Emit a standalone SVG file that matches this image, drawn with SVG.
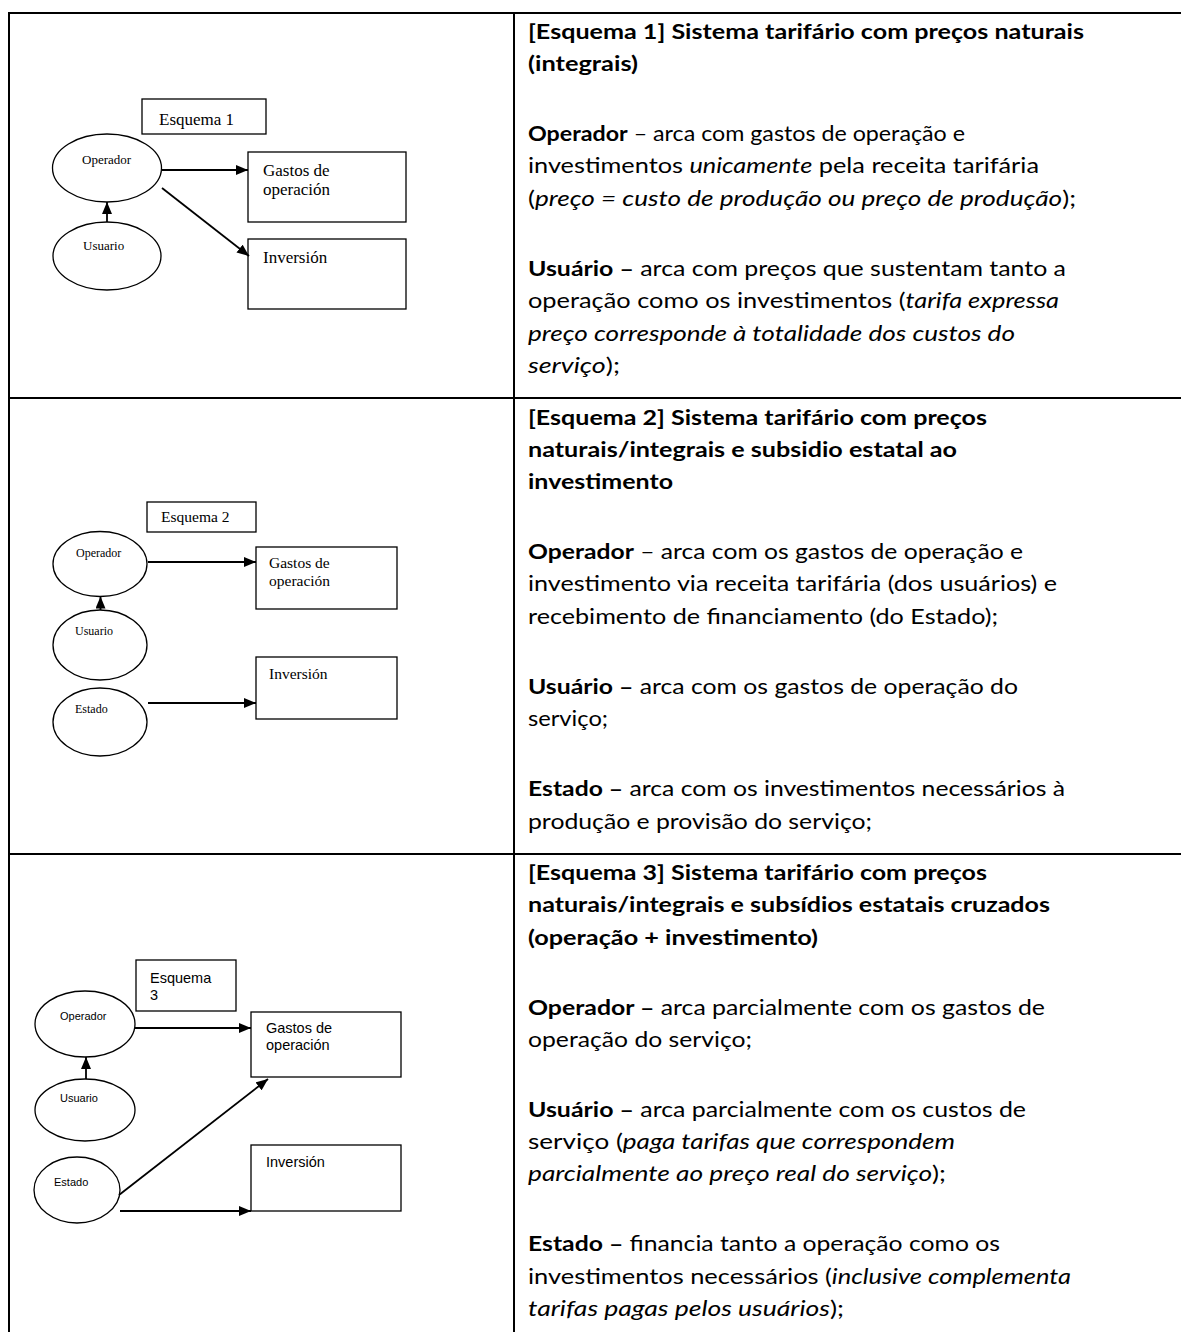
<svg xmlns="http://www.w3.org/2000/svg" width="1181" height="1332" viewBox="0 0 1181 1332">
<style>
.grid{stroke:#000;stroke-width:2;fill:none}
.shape{fill:#fff;stroke:#000;stroke-width:1.3}
.conn{stroke:#000;stroke-width:1.8;fill:none}
.serif{font-family:"Liberation Serif","Times New Roman",serif;fill:#000}
.sans{font-family:"Liberation Sans",Arial,sans-serif;fill:#000}
.body{font-family:Lato,"Open Sans",sans-serif;font-size:21.5px;fill:#000}
.b{font-weight:700}
.i{font-style:italic}
</style>
<defs>
<marker id="ah" markerWidth="12" markerHeight="10" refX="12" refY="5" orient="auto" markerUnits="userSpaceOnUse"><path d="M0,0 L12,5 L0,10 z" fill="#000"/></marker>
</defs>
<rect x="0" y="0" width="1181" height="1332" fill="#fff"/>
<g id="table">
<line class="grid" x1="8" y1="13" x2="1181" y2="13"/>
<line class="grid" x1="9" y1="12" x2="9" y2="1332"/>
<line class="grid" x1="514" y1="12" x2="514" y2="1332"/>
<line class="grid" x1="8" y1="398" x2="1181" y2="398"/>
<line class="grid" x1="8" y1="854" x2="1181" y2="854"/>
</g>

<!-- Panel 1 -->
<g id="p1-title"><rect class="shape" x="142" y="99" width="124" height="35"/><text class="serif" x="159" y="125" font-size="17">Esquema 1</text></g>
<g id="p1-operador"><ellipse class="shape" cx="107" cy="168" rx="54.5" ry="34"/><text class="serif" x="82" y="164" font-size="13">Operador</text></g>
<g id="p1-usuario"><ellipse class="shape" cx="107" cy="256" rx="54" ry="34"/><text class="serif" x="83" y="250" font-size="13">Usuario</text></g>
<g id="p1-gastos"><rect class="shape" x="248" y="152" width="158" height="70"/><text class="serif" x="263" y="176" font-size="17">Gastos de</text><text class="serif" x="263" y="195" font-size="17">operación</text></g>
<g id="p1-inversion"><rect class="shape" x="248" y="239" width="158" height="70"/><text class="serif" x="263" y="263" font-size="17">Inversión</text></g>

<!-- Panel 2 -->
<g id="p2-title"><rect class="shape" x="147" y="502" width="109" height="30"/><text class="serif" x="161" y="522" font-size="15.5">Esquema 2</text></g>
<g id="p2-operador"><ellipse class="shape" cx="100" cy="564" rx="47" ry="32.5"/><text class="serif" x="76" y="557" font-size="12">Operador</text></g>
<g id="p2-usuario"><ellipse class="shape" cx="100" cy="645" rx="47" ry="35"/><text class="serif" x="75" y="635" font-size="12">Usuario</text></g>
<g id="p2-estado"><ellipse class="shape" cx="100" cy="722" rx="47" ry="34"/><text class="serif" x="75" y="713" font-size="12">Estado</text></g>
<g id="p2-gastos"><rect class="shape" x="256" y="547" width="141" height="62"/><text class="serif" x="269" y="568" font-size="15.5">Gastos de</text><text class="serif" x="269" y="586" font-size="15.5">operación</text></g>
<g id="p2-inversion"><rect class="shape" x="256" y="657" width="141" height="62"/><text class="serif" x="269" y="679" font-size="15.5">Inversión</text></g>

<!-- Panel 3 -->
<g id="p3-title"><rect class="shape" x="136" y="960" width="100" height="51"/><text class="sans" x="150" y="983" font-size="14.5">Esquema</text><text class="sans" x="150" y="1000" font-size="14.5">3</text></g>
<g id="p3-operador"><ellipse class="shape" cx="85" cy="1024" rx="50" ry="33"/><text class="sans" x="60" y="1020" font-size="11">Operador</text></g>
<g id="p3-usuario"><ellipse class="shape" cx="85" cy="1110" rx="50" ry="31"/><text class="sans" x="60" y="1102" font-size="11">Usuario</text></g>
<g id="p3-estado"><ellipse class="shape" cx="77" cy="1190" rx="43" ry="33"/><text class="sans" x="54" y="1186" font-size="11">Estado</text></g>
<g id="p3-gastos"><rect class="shape" x="251" y="1012" width="150" height="65"/><text class="sans" x="266" y="1033" font-size="14.5">Gastos de</text><text class="sans" x="266" y="1050" font-size="14.5">operación</text></g>
<g id="p3-inversion"><rect class="shape" x="251" y="1145" width="150" height="66"/><text class="sans" x="266" y="1167" font-size="14.5">Inversión</text></g>

<g id="connectors">
<line class="conn" x1="107" y1="222" x2="107" y2="202" marker-end="url(#ah)"/>
<line class="conn" x1="162" y1="170" x2="248" y2="170" marker-end="url(#ah)"/>
<line class="conn" x1="162" y1="188" x2="249" y2="256" marker-end="url(#ah)"/>
<line class="conn" x1="100.5" y1="610" x2="100.5" y2="596.5" marker-end="url(#ah)"/>
<line class="conn" x1="148" y1="562" x2="256" y2="562" marker-end="url(#ah)"/>
<line class="conn" x1="148" y1="703" x2="256" y2="703" marker-end="url(#ah)"/>
<line class="conn" x1="86" y1="1079" x2="86" y2="1057" marker-end="url(#ah)"/>
<line class="conn" x1="135" y1="1028" x2="251" y2="1028" marker-end="url(#ah)"/>
<line class="conn" x1="119" y1="1195" x2="268" y2="1079" marker-end="url(#ah)"/>
<line class="conn" x1="120" y1="1211" x2="251" y2="1211" marker-end="url(#ah)"/>
</g>

<g id="text-1" class="body">
<text x="528" y="39" textLength="556" lengthAdjust="spacingAndGlyphs" class="b">[Esquema 1] Sistema tarifário com preços naturais</text>
<text x="528" y="71" textLength="110" lengthAdjust="spacingAndGlyphs" class="b">(integrais)</text>
<text x="528" y="141" textLength="437" lengthAdjust="spacingAndGlyphs"><tspan class="b">Operador</tspan> – arca com gastos de operação e</text>
<text x="528" y="173" textLength="511" lengthAdjust="spacingAndGlyphs">investimentos <tspan class="i">unicamente</tspan> pela receita tarifária</text>
<text x="528" y="206" textLength="548" lengthAdjust="spacingAndGlyphs">(<tspan class="i">preço = custo de produção ou preço de produção</tspan>);</text>
<text x="528" y="276" textLength="538" lengthAdjust="spacingAndGlyphs"><tspan class="b">Usuário –</tspan> arca com preços que sustentam tanto a</text>
<text x="528" y="308" textLength="531" lengthAdjust="spacingAndGlyphs">operação como os investimentos (<tspan class="i">tarifa expressa</tspan></text>
<text x="528" y="341" textLength="487" lengthAdjust="spacingAndGlyphs" class="i">preço corresponde à totalidade dos custos do</text>
<text x="528" y="373" textLength="92" lengthAdjust="spacingAndGlyphs"><tspan class="i">serviço</tspan>);</text>
</g>
<g id="text-2" class="body">
<text x="528" y="425" textLength="459" lengthAdjust="spacingAndGlyphs" class="b">[Esquema 2] Sistema tarifário com preços</text>
<text x="528" y="457" textLength="429" lengthAdjust="spacingAndGlyphs" class="b">naturais/integrais e subsidio estatal ao</text>
<text x="528" y="489" textLength="145" lengthAdjust="spacingAndGlyphs" class="b">investimento</text>
<text x="528" y="559" textLength="495" lengthAdjust="spacingAndGlyphs"><tspan class="b">Operador</tspan> – arca com os gastos de operação e</text>
<text x="528" y="591" textLength="529" lengthAdjust="spacingAndGlyphs">investimento via receita tarifária (dos usuários) e</text>
<text x="528" y="624" textLength="470" lengthAdjust="spacingAndGlyphs">recebimento de financiamento (do Estado);</text>
<text x="528" y="694" textLength="490" lengthAdjust="spacingAndGlyphs"><tspan class="b">Usuário –</tspan> arca com os gastos de operação do</text>
<text x="528" y="726" textLength="80" lengthAdjust="spacingAndGlyphs">serviço;</text>
<text x="528" y="796" textLength="537" lengthAdjust="spacingAndGlyphs"><tspan class="b">Estado –</tspan> arca com os investimentos necessários à</text>
<text x="528" y="829" textLength="344" lengthAdjust="spacingAndGlyphs">produção e provisão do serviço;</text>
</g>
<g id="text-3" class="body">
<text x="528" y="880" textLength="459" lengthAdjust="spacingAndGlyphs" class="b">[Esquema 3] Sistema tarifário com preços</text>
<text x="528" y="912" textLength="522" lengthAdjust="spacingAndGlyphs" class="b">naturais/integrais e subsídios estatais cruzados</text>
<text x="528" y="945" textLength="290" lengthAdjust="spacingAndGlyphs" class="b">(operação + investimento)</text>
<text x="528" y="1015" textLength="517" lengthAdjust="spacingAndGlyphs"><tspan class="b">Operador –</tspan> arca parcialmente com os gastos de</text>
<text x="528" y="1047" textLength="224" lengthAdjust="spacingAndGlyphs">operação do serviço;</text>
<text x="528" y="1117" textLength="498" lengthAdjust="spacingAndGlyphs"><tspan class="b">Usuário –</tspan> arca parcialmente com os custos de</text>
<text x="528" y="1149" textLength="427" lengthAdjust="spacingAndGlyphs">serviço (<tspan class="i">paga tarifas que correspondem</tspan></text>
<text x="528" y="1181" textLength="418" lengthAdjust="spacingAndGlyphs"><tspan class="i">parcialmente ao preço real do serviço</tspan>);</text>
<text x="528" y="1251" textLength="472" lengthAdjust="spacingAndGlyphs"><tspan class="b">Estado –</tspan> financia tanto a operação como os</text>
<text x="528" y="1284" textLength="543" lengthAdjust="spacingAndGlyphs">investimentos necessários (<tspan class="i">inclusive complementa</tspan></text>
<text x="528" y="1316" textLength="316" lengthAdjust="spacingAndGlyphs"><tspan class="i">tarifas pagas pelos usuários</tspan>);</text>
</g>
</svg>
